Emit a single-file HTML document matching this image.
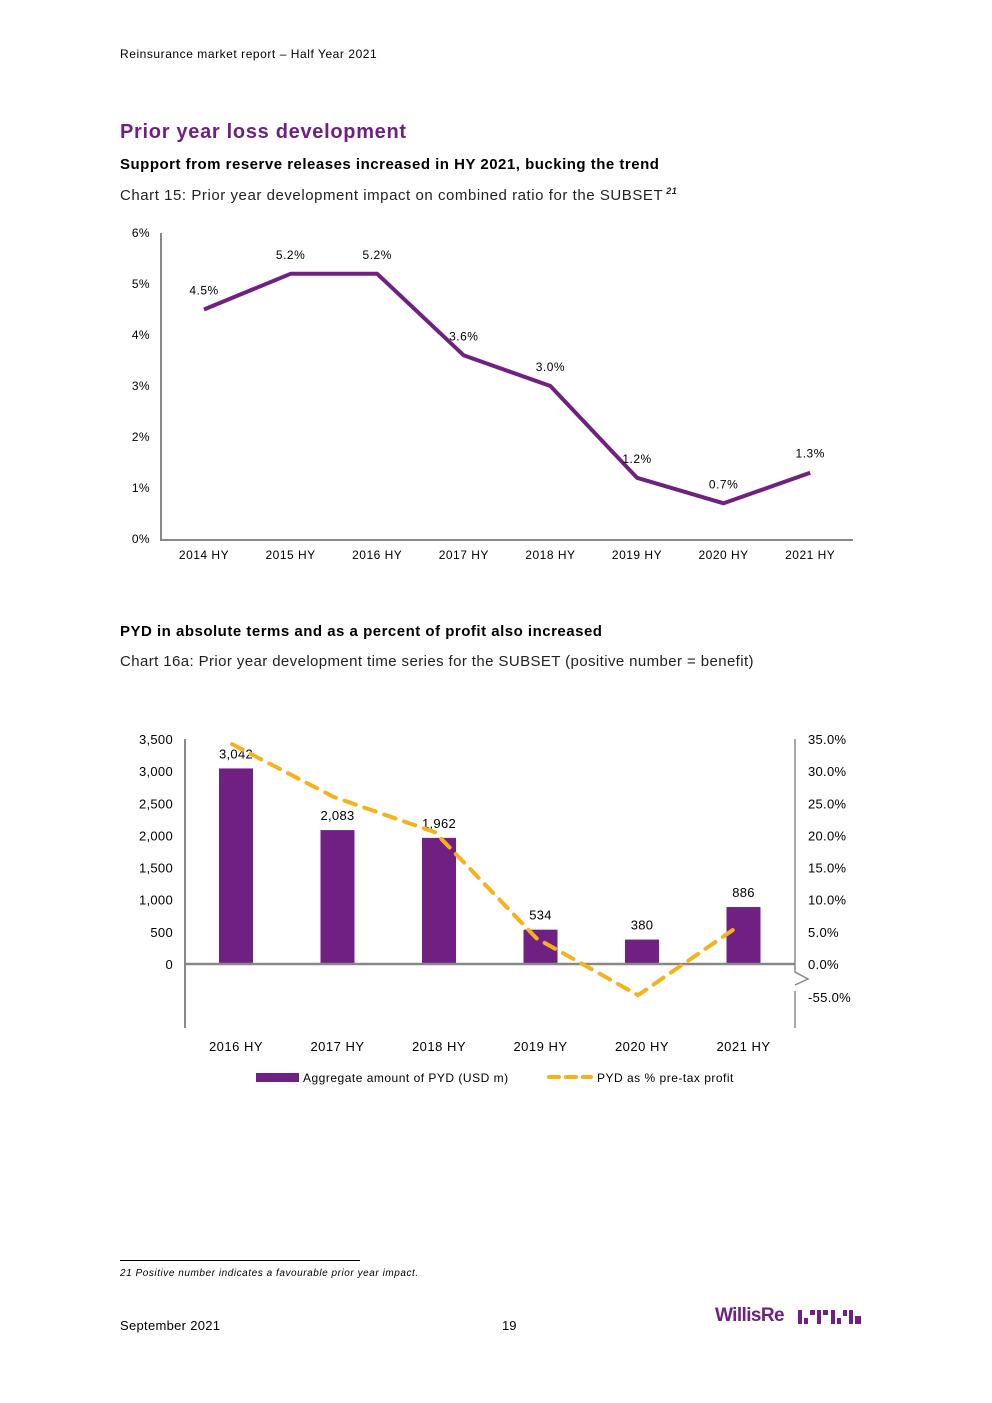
<!DOCTYPE html>
<html><head><meta charset="utf-8"><style>
body{margin:0;background:#fff;font-family:"Liberation Sans",Arial,sans-serif;}
.page{position:relative;width:992px;height:1403px;overflow:hidden;}
.t{position:absolute;white-space:nowrap;color:#000;}
svg text{font-family:"Liberation Sans",Arial,sans-serif;}
</style></head><body><div class="page">
<div class="t" style="left:120px;top:47px;font-size:12px;letter-spacing:0.55px">Reinsurance market report – Half Year 2021</div>
<div class="t" style="left:120px;top:121px;font-size:20px;font-weight:bold;color:#702082;letter-spacing:0.7px">Prior year loss development</div>
<div class="t" style="left:120px;top:156px;font-size:15px;font-weight:bold;letter-spacing:0.5px">Support from reserve releases increased in HY 2021, bucking the trend</div>
<div class="t" style="left:120px;top:186px;font-size:15px;color:#222;letter-spacing:0.55px">Chart 15: Prior year development impact on combined ratio for the SUBSET<sup style="font-size:9px;font-style:italic;font-weight:bold"> 21</sup></div>
<div class="t" style="left:120px;top:623px;font-size:15px;font-weight:bold;letter-spacing:0.5px">PYD in absolute terms and as a percent of profit also increased</div>
<div class="t" style="left:120px;top:653px;font-size:15px;color:#222;letter-spacing:0.4px">Chart 16a: Prior year development time series for the SUBSET (positive number = benefit)</div>

<svg id="c1" width="992" height="1403" style="position:absolute;left:0;top:0"></svg>

<div style="position:absolute;left:120px;top:1260px;width:240px;border-top:1px solid #000"></div>
<div class="t" style="left:120px;top:1268px;font-size:10px;font-style:italic;letter-spacing:0.55px">21 Positive number indicates a favourable prior year impact.</div>
<div class="t" style="left:120px;top:1318px;font-size:13px;letter-spacing:0.3px">September 2021</div>
<div class="t" style="left:502px;top:1318px;font-size:13px">19</div>
<div class="t" style="left:715px;top:1305px;font-size:19px;font-weight:bold;color:#702082;letter-spacing:-0.6px">WillisRe</div>
<svg style="position:absolute;left:798px;top:1308px" width="66" height="16">
<g fill="#702082"><rect x="0" y="2" width="4" height="14"/><rect x="6" y="10" width="4" height="6"/><rect x="12" y="2" width="5" height="5"/><rect x="19" y="2" width="4" height="14"/><rect x="25" y="2" width="5" height="5"/><rect x="33" y="2" width="4" height="14"/><rect x="39" y="10" width="4" height="6"/><rect x="45" y="2" width="4" height="6"/><rect x="51" y="2" width="4" height="14"/><rect x="57" y="8" width="6" height="8"/></g></svg>

<script>
const years1=["2014 HY","2015 HY","2016 HY","2017 HY","2018 HY","2019 HY","2020 HY","2021 HY"];
const pyd1=[4.5,5.2,5.2,3.6,3.0,1.2,0.7,1.3];
const ticks1=[0,1,2,3,4,5,6];
const years2=["2016 HY","2017 HY","2018 HY","2019 HY","2020 HY","2021 HY"];
const amounts2=[3042,2083,1962,534,380,886];
const pct2=[34.2,26,20.5,4,-52,6];
const leftTicks2=[0,500,1000,1500,2000,2500,3000,3500];
const rightTicks2=[0,5,10,15,20,25,30,35];
const NS="http://www.w3.org/2000/svg";
const svg=document.getElementById('c1');
function mk(tag,a,txt){const e=document.createElementNS(NS,tag);for(const k in a)e.setAttribute(k,a[k]);if(txt!==undefined)e.textContent=txt;svg.appendChild(e);return e;}
const x1=i=>204+i*86.6, y1=v=>539-v*51;
let e=mk('line',{x1:161,y1:233,x2:161,y2:540,stroke:'#888','stroke-width':2});

e=mk('line',{x1:160,y1:540,x2:853,y2:540,stroke:'#888','stroke-width':2});

ticks1.forEach(t=>{e=mk('text',{x:150,y:y1(t)+4,'text-anchor':'end','font-size':12,'letter-spacing':'0.4'},t+'%');
});
years1.forEach((c,i)=>{e=mk('text',{x:x1(i),y:559,'text-anchor':'middle','font-size':12,'letter-spacing':'0.5'},c);
});
e=mk('polyline',{points:pyd1.map((v,i)=>x1(i)+','+y1(v)).join(' '),fill:'none',stroke:'#702082','stroke-width':4,'stroke-linejoin':'round'});

pyd1.forEach((v,i)=>{e=mk('text',{x:x1(i),y:y1(v)-15,'text-anchor':'middle','font-size':12,'letter-spacing':'0.5'},v.toFixed(1)+'%');
});
const x2=i=>236+i*101.5, yl=v=>964-v*225/3500;
const yr=v=>v>=0?964-v*225/35:964+(-v)/55*33;
e=mk('line',{x1:185,y1:739,x2:185,y2:1028,stroke:'#888','stroke-width':2});

e=mk('path',{d:'M795 739 V972 L808 979 L795 985 M795 991 V1028',fill:'none',stroke:'#888','stroke-width':1.5});

leftTicks2.forEach(t=>{e=mk('text',{x:173,y:yl(t)+5,'text-anchor':'end','font-size':13,'letter-spacing':'0.3'},t.toLocaleString('en-US'));
});
rightTicks2.forEach(t=>{e=mk('text',{x:808,y:yr(t)+5,'font-size':13,'letter-spacing':'0.3'},t.toFixed(1)+'%');
});
e=mk('text',{x:808,y:1002,'font-size':13,'letter-spacing':'0.3'},'-55.0%');

amounts2.forEach((v,i)=>{e=mk('rect',{x:x2(i)-17,y:yl(v),width:34,height:964-yl(v),fill:'#702082'});

e=mk('text',{x:x2(i),y:yl(v)-10,'text-anchor':'middle','font-size':13,'letter-spacing':'0.3'},v.toLocaleString('en-US'));
});
e=mk('line',{x1:185,y1:964,x2:795,y2:964,stroke:'#888','stroke-width':2.5});

e=mk('polyline',{points:pct2.map((v,i)=>(x2(i)-4)+','+yr(v)).join(' '),fill:'none',stroke:'#f6b21a','stroke-width':4,'stroke-dasharray':'12 9','stroke-linecap':'round'});

years2.forEach((c,i)=>{e=mk('text',{x:x2(i),y:1051,'text-anchor':'middle','font-size':13,'letter-spacing':'0.5'},c);
});
e=mk('rect',{x:256,y:1073,width:43,height:9,fill:'#702082'});

e=mk('text',{x:303,y:1082,'font-size':12,'letter-spacing':'0.5'},'Aggregate amount of PYD (USD m)');

e=mk('line',{x1:549,y1:1077,x2:591,y2:1077,stroke:'#f6b21a','stroke-width':4,'stroke-dasharray':'10 7','stroke-linecap':'round'});

e=mk('text',{x:597,y:1082,'font-size':12,'letter-spacing':'0.5'},'PYD as % pre-tax profit');

</script>
</div></body></html>
